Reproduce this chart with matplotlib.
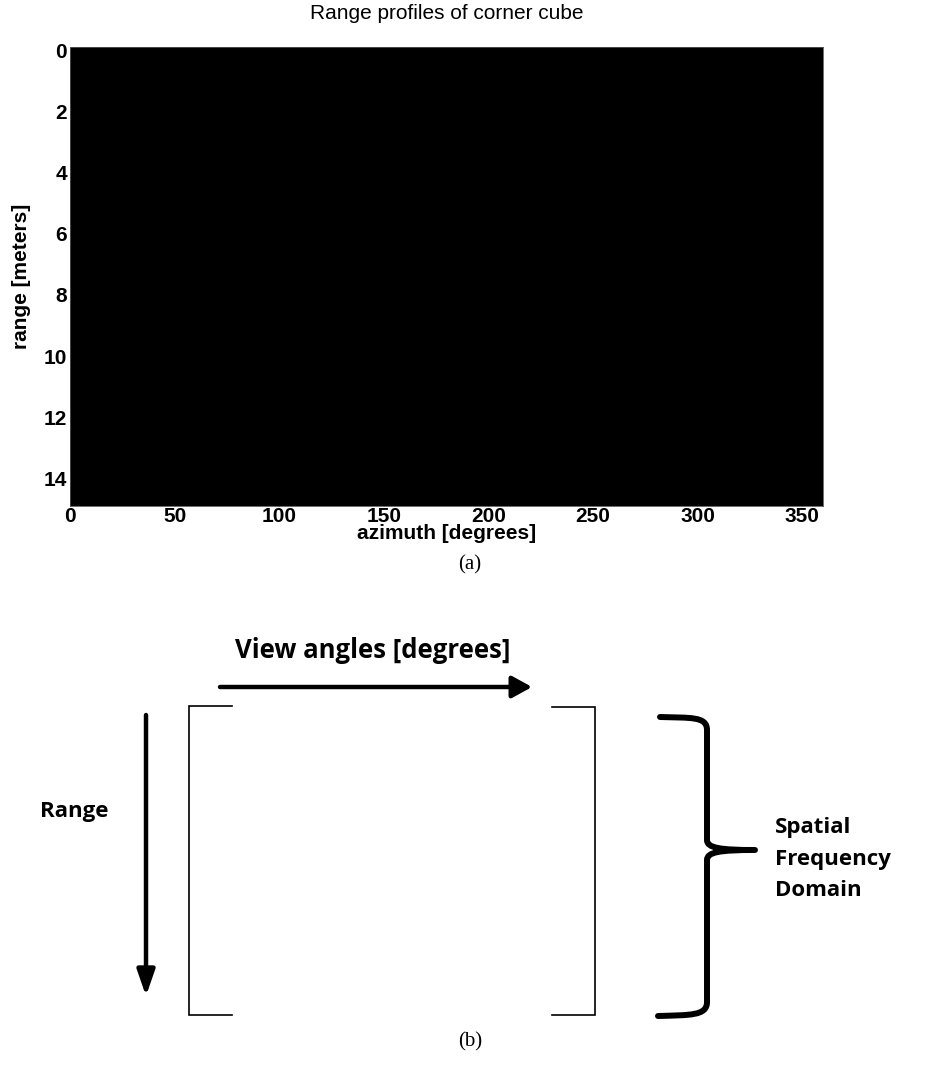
import matplotlib

matplotlib.use("Agg")
import matplotlib.pyplot as plt
from matplotlib.path import Path
from matplotlib.patches import PathPatch
import numpy as np

# Range profile magnitudes (normalised); everything sits at the display floor.
range_profile = np.zeros((15, 36))
azimuth_limits = [0, 360]
range_limits = [14.9, -0.1]
azimuth_ticks = [0, 50, 100, 150, 200, 250, 300, 350]
range_ticks = [0, 2, 4, 6, 8, 10, 12, 14]

title_text = "Range profiles of corner cube"
xlabel_text = "azimuth [degrees]"
ylabel_text = "range [meters]"

view_label = "View angles [degrees]"
range_label = "Range"
domain_label = ["Spatial", "Frequency", "Domain"]

W, H = 940, 1065
fig = plt.figure(figsize=(W / 100, H / 100), dpi=100)
fig.patch.set_facecolor("white")

sans = "Liberation Sans"
diag_font = "Open Sans"

# ---- (a) range profile image ----
left, right, top, bottom = 70, 823, 47, 506
ax = fig.add_axes([left / W, 1 - bottom / H, (right - left) / W, (bottom - top) / H])
ax.imshow(
    range_profile,
    cmap="gray",
    vmin=0.0,
    vmax=1.0,
    aspect="auto",
    interpolation="nearest",
    extent=[azimuth_limits[0], azimuth_limits[1], range_limits[0], range_limits[1]],
)
ax.set_xlim(azimuth_limits)
ax.set_ylim(range_limits)
ax.set_xticks(azimuth_ticks)
ax.set_yticks(range_ticks)
ax.tick_params(direction="in", length=3, width=0.6, color="black", pad=2, labelsize=15)
ax.tick_params(axis="x", pad=1)
for lab in ax.get_xticklabels() + ax.get_yticklabels():
    lab.set_fontweight("bold")
    lab.set_family(sans)
for sp in ax.spines.values():
    sp.set_linewidth(0.6)
    sp.set_color("#555555")
ax.set_title(title_text, fontsize=15, family=sans, pad=20)
ax.set_xlabel(xlabel_text, fontsize=15, fontweight="bold", family=sans, va="top")
ax.xaxis.set_label_coords(0.5, -0.04)
ax.set_ylabel(ylabel_text, fontsize=15, fontweight="bold", family=sans)
ax.yaxis.set_label_coords(-0.052, 0.5)

fig.text(470 / W, 1 - 565 / H, "(a)", ha="center", va="center", fontsize=15, family="Liberation Serif")

# ---- (b) schematic of the range / view-angle data layout ----
dg = fig.add_axes([0, 0, 1, 1], facecolor="none")
dg.set_xlim(0, W)
dg.set_ylim(H, 0)
dg.axis("off")

dg.text(235, 651, view_label, ha="left", va="center", fontsize=18.5, fontweight="bold", family=diag_font)
dg.annotate(
    "",
    xy=(532, 687),
    xytext=(220, 687),
    arrowprops=dict(arrowstyle="-|>,head_length=1.0,head_width=0.55", mutation_scale=12,
                    lw=3.2, color="black", shrinkA=0, shrinkB=0),
)
dg.annotate(
    "",
    xy=(146, 996),
    xytext=(146, 715),
    arrowprops=dict(arrowstyle="-|>,head_length=1.3,head_width=0.45", mutation_scale=12,
                    lw=3.2, color="black", shrinkA=0, shrinkB=0),
)
dg.text(40, 812, range_label, ha="left", va="center", fontsize=16, fontweight="bold", family=diag_font)

# matrix brackets
dg.plot([232, 189, 189, 232], [706, 706, 1015, 1015], color="black", lw=1.2, solid_joinstyle="miter")
dg.plot([552, 595, 595, 552], [707, 707, 1015, 1015], color="black", lw=1.2, solid_joinstyle="miter")

# curly brace
tip_y = 850
bx, tip_x = 707, 755
verts = [
    (660, 717), (690, 718), (707, 716), (707, 730),
    (bx, tip_y - 10),
    (bx, tip_y - 2), (720, tip_y), (tip_x, tip_y),
    (720, tip_y), (bx, tip_y + 2), (bx, tip_y + 10),
    (bx, 1002),
    (707, 1016), (690, 1015), (658, 1016),
]
codes = [
    Path.MOVETO, Path.CURVE4, Path.CURVE4, Path.CURVE4,
    Path.LINETO,
    Path.CURVE4, Path.CURVE4, Path.CURVE4,
    Path.CURVE4, Path.CURVE4, Path.CURVE4,
    Path.LINETO,
    Path.CURVE4, Path.CURVE4, Path.CURVE4,
]
dg.add_patch(PathPatch(Path(verts, codes), facecolor="none", edgecolor="black", lw=4.3,
                       capstyle="round", joinstyle="round"))

for i, word in enumerate(domain_label):
    dg.text(775, 828 + i * 31, word, ha="left", va="center", fontsize=16, fontweight="bold",
            family=diag_font)

fig.text(470 / W, 1 - 1042 / H, "(b)", ha="center", va="center", fontsize=15, family="Liberation Serif")

fig.savefig("out.png", dpi=100)
plt.close(fig)
